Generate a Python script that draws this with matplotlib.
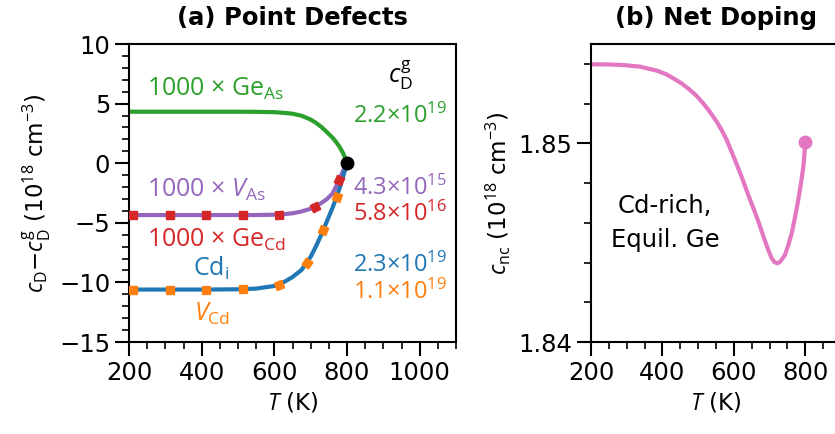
import numpy as np
import matplotlib
matplotlib.use("Agg")
import matplotlib.pyplot as plt
from matplotlib.ticker import MultipleLocator

plt.rcParams["font.size"] = 17.5
plt.rcParams["mathtext.fontset"] = "custom"
plt.rcParams["mathtext.rm"] = "Open Sans"
plt.rcParams["mathtext.it"] = "Open Sans:italic"
plt.rcParams["mathtext.bf"] = "Open Sans:bold"

# ---- panel (a) data: c_D - c_D^g (1e18 cm^-3) vs T (K)
T_a = [200, 300, 400, 500, 550, 600, 625, 650, 675, 700, 715, 730, 745, 760, 770, 780, 790, 800]
ge_as = [4.32, 4.32, 4.32, 4.32, 4.31, 4.28, 4.23, 4.15, 3.98, 3.66, 3.38, 3.03, 2.60, 2.15, 1.78, 1.35, 0.80, 0.0]
v_as = [-4.35, -4.35, -4.35, -4.35, -4.35, -4.32, -4.28, -4.20, -4.05, -3.82, -3.60, -3.33, -3.00, -2.55, -1.95, -1.25, -0.60, 0.0]
cd_i = [-10.6, -10.6, -10.6, -10.58, -10.52, -10.3, -10.0, -9.55, -8.95, -7.85, -6.95, -5.95, -4.85, -3.75, -2.95, -2.05, -1.05, 0.0]

# marker samples for Ge_Cd (on V_As curve) and V_Cd (on Cd_i curve)
T_ge_cd = [212, 312, 413, 514, 613, 711, 778]
ge_cd = [-4.35, -4.35, -4.35, -4.35, -4.32, -3.65, -1.41]
T_v_cd = [212, 312, 413, 514, 613, 689, 734, 772]
v_cd = [-10.6, -10.6, -10.6, -10.58, -10.18, -8.35, -5.62, -2.8]

# growth concentrations c_D^g shown at the right
cg_labels = ["2.2×10$^{19}$", "4.3×10$^{15}$", "5.8×10$^{16}$", "2.3×10$^{19}$", "1.1×10$^{19}$"]

# ---- panel (b) data: net doping c_nc (1e18 cm^-3)
T_b = [200, 250, 290, 337, 384, 410, 430, 455, 477, 495, 514, 533, 552, 566, 580, 600, 620, 640,
       655, 670, 683, 695, 706, 714, 722, 730, 743, 752, 762, 771, 780, 788, 795, 800]
c_nc = [1.85398, 1.85397, 1.85394, 1.85386, 1.85366, 1.85348, 1.85328, 1.85300, 1.85269, 1.85240,
        1.85202, 1.85158, 1.85109, 1.85066, 1.85017, 1.84930, 1.84840, 1.84742, 1.84672, 1.84600,
        1.84530, 1.84470, 1.84421, 1.84402, 1.84396, 1.84405, 1.84438, 1.84485, 1.84547, 1.84625,
        1.84712, 1.84800, 1.84888, 1.85005]

green, purple, red, blue, orange, pink = "#2ca02c", "#9467bd", "#d62728", "#1f77b4", "#ff7f0e", "#e377c2"

fig = plt.figure(figsize=(8.35, 4.34), dpi=100)
ax1 = fig.add_axes([129 / 835, 92 / 434, 327 / 835, 298 / 434])
ax2 = fig.add_axes([591 / 835, 92 / 434, 250 / 835, 298 / 434])

for ax in (ax1, ax2):
    ax.tick_params(which="major", direction="out", length=10, width=1.5)
    ax.tick_params(which="minor", direction="out", length=5, width=1.2)
    for s in ax.spines.values():
        s.set_linewidth(1.5)

# panel a
ax1.plot(T_a, ge_as, color=green, lw=3)
ax1.plot(T_a, v_as, color=purple, lw=3)
ax1.plot(T_a, cd_i, color=blue, lw=3)
ax1.plot([800], [0], "o", color="black", ms=9, zorder=5)

ax1.set_xlim(200, 1100)
ax1.set_ylim(-15, 10)
ax1.xaxis.set_major_locator(MultipleLocator(200))
ax1.xaxis.set_minor_locator(MultipleLocator(50))
ax1.yaxis.set_major_locator(MultipleLocator(5))
ax1.yaxis.set_minor_locator(MultipleLocator(1))


def tilted_squares(ax, T, y, Tc, yc, color):
    # squares rotated along the curve tangent
    fig.canvas.draw()
    for t, v in zip(T, y):
        p0 = ax.transData.transform((t - 3, np.interp(t - 3, Tc, yc)))
        p1 = ax.transData.transform((t + 3, np.interp(t + 3, Tc, yc)))
        ang = np.degrees(np.arctan2(p1[1] - p0[1], p1[0] - p0[0]))
        ax.plot([t], [v], marker=(4, 0, 45 + ang), color=color, ms=8, ls="none", zorder=4)


tilted_squares(ax1, T_ge_cd, ge_cd, T_a, v_as, red)
tilted_squares(ax1, T_v_cd, v_cd, T_a, cd_i, orange)

ax1.set_xlabel(r"$T$ (K)", fontsize=16.5)
ax1.set_ylabel(r"$c_\mathrm{D}$−$c_\mathrm{D}^\mathrm{g}$ (10$^{18}$ cm$^{-3}$)", fontsize=16.5)
ax1.set_title("(a) Point Defects", fontweight="bold", fontsize=17.5, pad=14)

kw = dict(fontfamily="Open Sans", fontsize=18)
ax1.text(250, 6.2, r"1000 × Ge$_\mathrm{As}$", color=green, va="center", ha="left", **kw)
ax1.text(250, -2.25, r"1000 × $V_\mathrm{As}$", color=purple, va="center", ha="left", **kw)
ax1.text(250, -6.4, r"1000 × Ge$_\mathrm{Cd}$", color=red, va="center", ha="left", **kw)
ax1.text(425, -8.8, r"Cd$_\mathrm{i}$", color=blue, va="center", ha="center", **kw)
ax1.text(428, -12.65, r"$V_\mathrm{Cd}$", color=orange, va="center", ha="center", **kw)
ax1.text(948, 7.4, r"$c_\mathrm{D}^\mathrm{g}$", color="black", va="center", ha="center", **kw)
for lab, yv, col in zip(cg_labels, [3.9, -2.1, -4.26, -8.6, -10.8], [green, purple, red, blue, orange]):
    ax1.text(1075, yv, lab, color=col, va="center", ha="right", fontfamily="Open Sans", fontsize=17)

# panel b
ax2.plot(T_b, c_nc, color=pink, lw=3)
ax2.plot([T_b[-1]], [c_nc[-1]], "o", color=pink, ms=9)
ax2.set_xlim(200, 900)
ax2.set_ylim(1.84, 1.855)
ax2.xaxis.set_major_locator(MultipleLocator(200))
ax2.xaxis.set_minor_locator(MultipleLocator(50))
ax2.yaxis.set_major_locator(MultipleLocator(0.01))
ax2.yaxis.set_minor_locator(MultipleLocator(0.002))
ax2.set_xlabel(r"$T$ (K)", fontsize=16.5)
ax2.set_ylabel(r"$c_\mathrm{nc}$ (10$^{18}$ cm$^{-3}$)", fontsize=16.5)
ax2.set_title("(b) Net Doping", fontweight="bold", fontsize=17.5, pad=14)
ax2.text(407, 1.846, "Cd-rich,\nEquil. Ge", ha="center", va="center", linespacing=1.55)

fig.savefig("out.png", dpi=100)
